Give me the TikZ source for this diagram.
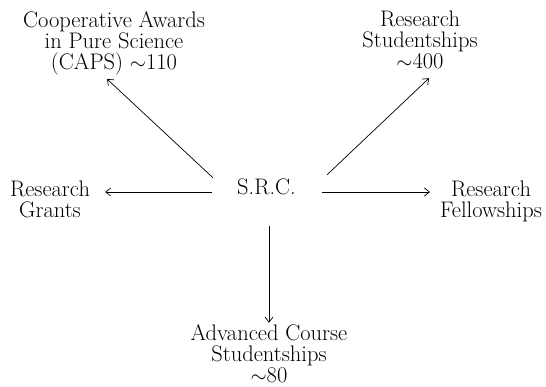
\documentclass[tikz,border=0pt]{standalone}
\usepackage{fontspec}
\usetikzlibrary{arrows.meta,calc}
\begin{document}
\begin{tikzpicture}[x=1pt,y=-1pt,
  lbl/.style={align=center,inner sep=0pt,font=\fontsize{22.5}{21}\selectfont},
  arr/.style={line width=0.7pt,-{Straight Barb[length=5pt,width=8pt,line width=0.7pt]}}]
\useasboundingbox (0,0) rectangle (546,386);
\node[lbl] (caps) at (114,43) {Cooperative Awards\\in Pure Science\\(CAPS) $\sim$110};
\node[lbl] (studs) at (420,40) {Research\\Studentships\\$\sim$400};
\node[lbl] (src) at (266.5,187) {S.R.C.};
\node[lbl] (grants) at (50,199) {Research\\Grants};
\node[lbl] (fell) at (491,201.5) {Research\\Fellowships};
\node[lbl] (adv) at (269,354) {Advanced Course\\Studentships\\$\sim$80};
\draw[arr] ($(src.west)+(-25,5)$) -- ($(grants.east)+(15,-7)$);
\draw[arr] ($(src.east)+(26,5)$) -- ($(fell.west)+(-10,-9.5)$);
\draw[arr] ($(src.south)+(2.5,31)$) -- ($(adv.north)+(0,-2)$);
\draw[arr] ($(src.north west)+(-24,-1)$) -- ($(caps.south)+(-7,4)$);
\draw[arr] ($(src.north east)+(31,-4)$) -- ($(studs.south)+(9,9)$);
\end{tikzpicture}
\end{document}
